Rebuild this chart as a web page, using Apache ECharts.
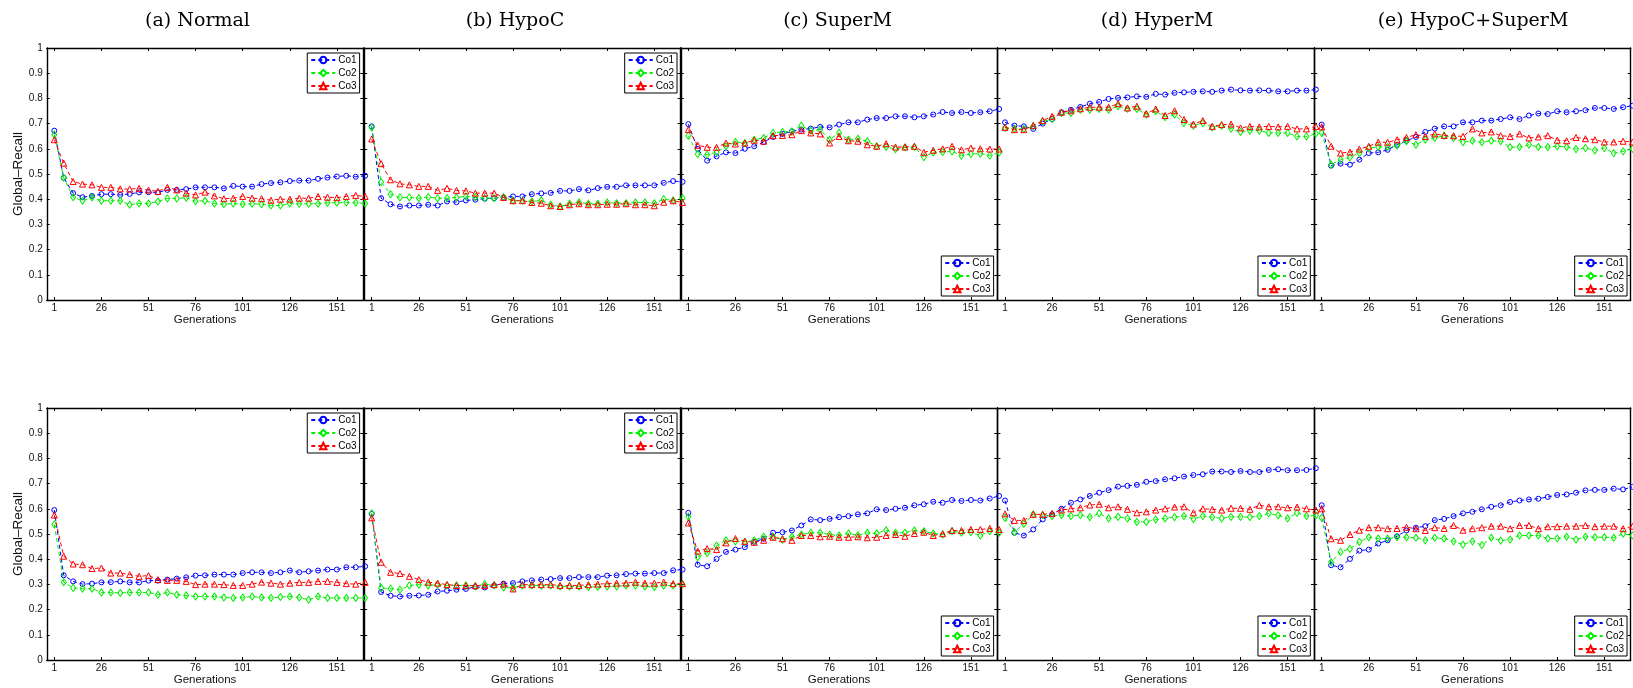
<!DOCTYPE html>
<html><head><meta charset="utf-8">
<script src="https://cdn.jsdelivr.net/npm/echarts@6/dist/echarts.min.js"></script>
<style>html,body{margin:0;padding:0;background:#fff}#c{width:1633px;height:688px}</style>
</head><body><div id="c"></div>
<script>
const generations = [1,6,11,16,21,26,31,36,41,46,51,56,61,66,71,76,81,86,91,96,101,106,111,116,121,126,131,136,141,146,151,156,161,166];
const xTickLabels = [1,26,51,76,101,126,151];
const panelTitles = ['(a) Normal','(b) HypoC','(c) SuperM','(d) HyperM','(e) HypoC+SuperM'];
const seriesNames = ['Co1','Co2','Co3'];
const xName = 'Generations';
const yName = 'Global\u2013Recall';

// top row
const r1_normal_co1 = [0.672,0.485,0.424,0.408,0.413,0.42,0.42,0.417,0.421,0.427,0.428,0.427,0.437,0.437,0.44,0.447,0.447,0.447,0.443,0.453,0.45,0.45,0.46,0.464,0.467,0.472,0.474,0.474,0.481,0.486,0.49,0.493,0.489,0.493];
const r1_normal_co2 = [0.656,0.485,0.408,0.394,0.407,0.394,0.394,0.394,0.378,0.383,0.383,0.391,0.403,0.403,0.406,0.392,0.394,0.383,0.38,0.383,0.38,0.382,0.38,0.375,0.375,0.383,0.382,0.382,0.382,0.386,0.386,0.387,0.386,0.383];
const r1_normal_co3 = [0.636,0.543,0.47,0.46,0.457,0.447,0.447,0.441,0.44,0.443,0.436,0.431,0.447,0.437,0.424,0.417,0.428,0.413,0.402,0.404,0.411,0.404,0.402,0.396,0.4,0.4,0.404,0.404,0.411,0.408,0.406,0.411,0.415,0.411];
const r1_hypoc_co1 = [0.689,0.404,0.38,0.371,0.375,0.375,0.378,0.375,0.391,0.388,0.395,0.398,0.402,0.404,0.407,0.411,0.411,0.42,0.423,0.425,0.433,0.433,0.44,0.435,0.444,0.449,0.449,0.455,0.455,0.455,0.455,0.465,0.472,0.469];
const r1_hypoc_co2 = [0.685,0.468,0.42,0.407,0.407,0.404,0.408,0.404,0.404,0.407,0.411,0.408,0.404,0.404,0.408,0.395,0.394,0.391,0.395,0.378,0.371,0.382,0.387,0.382,0.382,0.387,0.384,0.384,0.387,0.387,0.384,0.4,0.395,0.404];
const r1_hypoc_co3 = [0.639,0.541,0.477,0.461,0.457,0.451,0.451,0.435,0.443,0.435,0.433,0.424,0.424,0.424,0.407,0.394,0.394,0.387,0.384,0.374,0.371,0.378,0.382,0.378,0.378,0.38,0.38,0.382,0.378,0.378,0.374,0.388,0.394,0.387];
const r1_superm_co1 = [0.698,0.599,0.553,0.57,0.586,0.583,0.6,0.61,0.627,0.647,0.659,0.669,0.676,0.68,0.687,0.685,0.696,0.705,0.705,0.716,0.722,0.722,0.729,0.729,0.725,0.729,0.736,0.746,0.742,0.746,0.742,0.745,0.749,0.758];
const r1_superm_co2 = [0.652,0.579,0.577,0.586,0.61,0.627,0.623,0.636,0.643,0.663,0.667,0.669,0.692,0.672,0.676,0.636,0.663,0.636,0.64,0.63,0.61,0.607,0.599,0.606,0.607,0.567,0.586,0.587,0.59,0.573,0.579,0.581,0.573,0.586];
const r1_superm_co3 = [0.676,0.614,0.606,0.606,0.623,0.619,0.623,0.634,0.63,0.652,0.653,0.656,0.672,0.663,0.659,0.623,0.649,0.632,0.63,0.616,0.61,0.62,0.607,0.607,0.61,0.586,0.594,0.6,0.61,0.596,0.603,0.6,0.599,0.599];
const r1_hyperm_co1 = [0.705,0.692,0.689,0.679,0.7,0.718,0.745,0.755,0.766,0.779,0.786,0.798,0.802,0.804,0.808,0.806,0.818,0.815,0.822,0.824,0.826,0.828,0.826,0.831,0.835,0.832,0.831,0.832,0.831,0.828,0.828,0.831,0.831,0.835];
const r1_hyperm_co2 = [0.683,0.679,0.679,0.689,0.709,0.718,0.742,0.742,0.755,0.755,0.758,0.755,0.769,0.759,0.758,0.736,0.749,0.726,0.736,0.702,0.692,0.702,0.685,0.692,0.68,0.667,0.672,0.672,0.663,0.663,0.663,0.649,0.649,0.66];
const r1_hyperm_co3 = [0.685,0.676,0.676,0.693,0.712,0.729,0.745,0.751,0.759,0.765,0.765,0.765,0.779,0.762,0.769,0.739,0.758,0.732,0.751,0.716,0.698,0.712,0.689,0.696,0.698,0.683,0.689,0.687,0.689,0.687,0.689,0.679,0.679,0.689];
const r1_combo_co1 = [0.696,0.533,0.541,0.537,0.557,0.583,0.586,0.596,0.616,0.632,0.647,0.667,0.68,0.689,0.689,0.705,0.705,0.712,0.712,0.718,0.725,0.718,0.732,0.74,0.738,0.749,0.745,0.749,0.753,0.762,0.762,0.758,0.765,0.771];
const r1_combo_co2 = [0.663,0.537,0.557,0.566,0.583,0.603,0.607,0.607,0.612,0.63,0.616,0.636,0.643,0.652,0.643,0.626,0.632,0.626,0.632,0.63,0.606,0.607,0.616,0.607,0.607,0.61,0.607,0.599,0.603,0.594,0.603,0.583,0.59,0.6];
const r1_combo_co3 = [0.687,0.61,0.583,0.587,0.599,0.61,0.626,0.626,0.636,0.645,0.656,0.649,0.659,0.653,0.652,0.649,0.679,0.663,0.667,0.652,0.649,0.659,0.643,0.647,0.652,0.634,0.632,0.645,0.64,0.636,0.627,0.627,0.63,0.627];
// bottom row
const r2_normal_co1 = [0.595,0.336,0.312,0.301,0.303,0.308,0.309,0.312,0.308,0.308,0.315,0.315,0.319,0.323,0.328,0.335,0.336,0.339,0.339,0.339,0.345,0.348,0.348,0.345,0.348,0.355,0.348,0.352,0.355,0.359,0.359,0.368,0.368,0.372];
const r2_normal_co2 = [0.538,0.309,0.286,0.283,0.283,0.268,0.268,0.266,0.268,0.268,0.268,0.259,0.268,0.259,0.256,0.252,0.252,0.252,0.248,0.246,0.248,0.252,0.248,0.246,0.25,0.252,0.248,0.239,0.252,0.246,0.246,0.246,0.246,0.246];
const r2_normal_co3 = [0.575,0.412,0.381,0.378,0.363,0.365,0.345,0.345,0.339,0.332,0.335,0.319,0.316,0.316,0.312,0.299,0.301,0.301,0.299,0.296,0.296,0.301,0.309,0.305,0.301,0.305,0.308,0.308,0.312,0.312,0.308,0.303,0.301,0.308];
const r2_hypoc_co1 = [0.58,0.27,0.255,0.252,0.255,0.256,0.259,0.272,0.275,0.279,0.282,0.29,0.288,0.296,0.303,0.305,0.312,0.316,0.319,0.321,0.325,0.325,0.329,0.329,0.329,0.335,0.336,0.341,0.343,0.343,0.345,0.345,0.356,0.359];
const r2_hypoc_co2 = [0.582,0.286,0.283,0.279,0.296,0.299,0.296,0.299,0.296,0.296,0.296,0.292,0.301,0.296,0.288,0.286,0.296,0.296,0.295,0.296,0.292,0.292,0.292,0.29,0.29,0.292,0.292,0.296,0.296,0.292,0.29,0.295,0.296,0.301];
const r2_hypoc_co3 = [0.564,0.388,0.348,0.343,0.332,0.319,0.309,0.305,0.299,0.296,0.295,0.295,0.295,0.299,0.301,0.282,0.299,0.299,0.299,0.299,0.296,0.296,0.296,0.299,0.301,0.303,0.305,0.305,0.309,0.305,0.305,0.309,0.303,0.303];
const r2_superm_co1 = [0.584,0.378,0.372,0.401,0.429,0.438,0.448,0.469,0.481,0.505,0.507,0.514,0.534,0.558,0.555,0.56,0.567,0.571,0.578,0.582,0.598,0.595,0.6,0.604,0.614,0.618,0.628,0.624,0.635,0.631,0.635,0.633,0.641,0.651];
const r2_superm_co2 = [0.568,0.408,0.425,0.454,0.475,0.471,0.469,0.475,0.489,0.489,0.478,0.489,0.498,0.505,0.505,0.498,0.494,0.502,0.495,0.505,0.502,0.515,0.505,0.505,0.514,0.511,0.502,0.498,0.511,0.505,0.507,0.494,0.511,0.505];
const r2_superm_co3 = [0.544,0.432,0.442,0.438,0.465,0.482,0.471,0.467,0.475,0.487,0.481,0.475,0.494,0.494,0.489,0.491,0.487,0.487,0.489,0.485,0.487,0.494,0.498,0.491,0.502,0.507,0.494,0.501,0.514,0.514,0.518,0.518,0.522,0.518];
const r2_hyperm_co1 = [0.633,0.505,0.494,0.518,0.558,0.578,0.6,0.624,0.637,0.651,0.664,0.674,0.688,0.691,0.695,0.707,0.71,0.717,0.721,0.728,0.734,0.737,0.748,0.748,0.746,0.75,0.746,0.746,0.754,0.757,0.753,0.753,0.754,0.761];
const r2_hyperm_co2 = [0.564,0.507,0.54,0.578,0.575,0.571,0.575,0.571,0.575,0.567,0.582,0.562,0.568,0.562,0.548,0.548,0.558,0.562,0.567,0.571,0.56,0.571,0.567,0.562,0.568,0.568,0.567,0.571,0.582,0.574,0.562,0.584,0.571,0.574];
const r2_hyperm_co3 = [0.58,0.554,0.554,0.578,0.578,0.582,0.595,0.6,0.604,0.615,0.618,0.604,0.608,0.598,0.584,0.588,0.595,0.6,0.607,0.608,0.584,0.6,0.598,0.595,0.602,0.602,0.598,0.614,0.608,0.608,0.604,0.607,0.6,0.595];
const r2_combo_co1 = [0.614,0.376,0.368,0.401,0.434,0.438,0.462,0.475,0.491,0.514,0.525,0.531,0.555,0.56,0.571,0.582,0.588,0.598,0.608,0.614,0.627,0.633,0.637,0.64,0.647,0.655,0.657,0.664,0.673,0.675,0.675,0.68,0.677,0.687];
const r2_combo_co2 = [0.564,0.388,0.429,0.441,0.469,0.487,0.482,0.482,0.487,0.487,0.485,0.475,0.485,0.482,0.471,0.458,0.471,0.456,0.485,0.474,0.478,0.494,0.494,0.494,0.482,0.482,0.489,0.478,0.489,0.487,0.487,0.485,0.501,0.494];
const r2_combo_co3 = [0.6,0.481,0.475,0.498,0.515,0.525,0.525,0.521,0.522,0.527,0.521,0.514,0.525,0.522,0.534,0.515,0.521,0.525,0.531,0.531,0.521,0.534,0.534,0.521,0.529,0.529,0.531,0.531,0.534,0.529,0.531,0.531,0.521,0.531];

const panelData = [
  [r1_normal_co1, r1_normal_co2, r1_normal_co3],
  [r1_hypoc_co1, r1_hypoc_co2, r1_hypoc_co3],
  [r1_superm_co1, r1_superm_co2, r1_superm_co3],
  [r1_hyperm_co1, r1_hyperm_co2, r1_hyperm_co3],
  [r1_combo_co1, r1_combo_co2, r1_combo_co3],
  [r2_normal_co1, r2_normal_co2, r2_normal_co3],
  [r2_hypoc_co1, r2_hypoc_co2, r2_hypoc_co3],
  [r2_superm_co1, r2_superm_co2, r2_superm_co3],
  [r2_hyperm_co1, r2_hyperm_co2, r2_hyperm_co3],
  [r2_combo_co1, r2_combo_co2, r2_combo_co3]
];

// layout (pixels)
const XMIN = -3, XMAX = 165;
const PX_PER_GEN = 1.884;
const gen1Px = [54.3, 371.7, 688.3, 1005, 1321.7];
const rowTop = [48, 408];
const rowH = 252;
const titleX = [197.5, 515, 837.5, 1157, 1473];
const legendCorner = ['ne','ne','se','se','se'];
const colors = ['#0000ff', '#00ee00', '#ff0000'];
const symbols = ['circle', 'diamond', 'triangle'];
const symbolSizes = [5, [5, 7], 6];

const FONT = '"Liberation Sans", Arial, sans-serif';
const grids = [], xAxes = [], yAxes = [], series = [], legends = [], graphics = [];

for (let p = 0; p < 10; p++) {
  const row = Math.floor(p / 5), col = p % 5;
  const left = gen1Px[col] + (XMIN - 1) * PX_PER_GEN;
  const width = (XMAX - XMIN) * PX_PER_GEN;
  const top = rowTop[row];
  grids.push({left: left, top: top, width: width, height: rowH, containLabel: false});
  const axisLine = {show: true, onZero: false, lineStyle: {color: '#000', width: 1.4}};
  const tick = {show: true, inside: true, length: 3, lineStyle: {color: '#000', width: 1}};
  xAxes.push({
    type: 'value', gridIndex: p, position: 'bottom', min: XMIN, max: XMAX,
    axisLine: axisLine, splitLine: {show: false},
    axisTick: Object.assign({customValues: xTickLabels}, tick),
    axisLabel: {show: true, customValues: xTickLabels, margin: 3, fontSize: 10, color: '#111', fontFamily: FONT},
    name: xName, nameLocation: 'middle', nameGap: 14,
    nameTextStyle: {fontSize: 11.5, color: '#111', fontFamily: FONT}
  });
  xAxes.push({
    type: 'value', gridIndex: p, position: 'top', min: XMIN, max: XMAX,
    axisLine: axisLine, splitLine: {show: false},
    axisTick: Object.assign({customValues: xTickLabels}, tick),
    axisLabel: {show: false}
  });
  const first = col === 0;
  yAxes.push({
    type: 'value', gridIndex: p, position: 'left', min: 0, max: 1, interval: 0.1,
    axisLine: axisLine, splitLine: {show: false}, axisTick: tick,
    axisLabel: {show: first, margin: 4, fontSize: 10, color: '#111', fontFamily: FONT},
    name: first ? yName : '', nameLocation: 'middle', nameGap: 16, nameRotate: 90,
    nameTextStyle: {fontSize: 13.5, color: '#111', fontFamily: FONT}
  });
  yAxes.push({
    type: 'value', gridIndex: p, position: 'right', min: 0, max: 1, interval: 0.1,
    axisLine: axisLine, splitLine: {show: false}, axisTick: tick,
    axisLabel: {show: false}
  });
  for (let s = 0; s < 3; s++) {
    const vals = panelData[p][s];
    series.push({
      type: 'line', name: seriesNames[s], xAxisIndex: 2 * p, yAxisIndex: 2 * p,
      data: generations.map((g, i) => [g, vals[i]]),
      clip: false, animation: false,
      symbol: symbols[s], symbolSize: symbolSizes[s], showSymbol: true,
      itemStyle: {color: 'rgba(255,255,255,0)', borderColor: colors[s], borderWidth: 1},
      lineStyle: {color: colors[s], width: 1, type: [4, 3]},
      emphasis: {disabled: true}, z: 3 + s
    });
  }
  const lw = 53, lh = 39;
  const right = left + width;
  const lg = {
    data: seriesNames, orient: 'vertical', selectedMode: false,
    left: right - lw - 3,
    top: legendCorner[col] === 'ne' ? top + 5 : top + rowH - lh - 5,
    backgroundColor: '#fff', borderColor: '#000', borderWidth: 1,
    padding: [1, 3, 1, 3], itemGap: 1, itemWidth: 24, itemHeight: 8,
    textStyle: {fontSize: 10, color: '#000', fontFamily: FONT, lineHeight: 12, padding: [0, 0, 0, -2]},
    z: 10
  };
  legends.push(lg);
  if (row === 0) {
    graphics.push({
      type: 'text', x: titleX[col], y: 21,
      style: {text: panelTitles[col], textAlign: 'center', textVerticalAlign: 'middle',
              font: '19px "DejaVu Serif", serif', fill: '#000'}
    });
  }
}

const chart = echarts.init(document.getElementById('c'), null, {renderer: 'canvas'});
chart.setOption({
  animation: false,
  backgroundColor: '#fff',
  grid: grids, xAxis: xAxes, yAxis: yAxes, series: series, legend: legends,
  graphic: graphics
});
</script></body></html>
